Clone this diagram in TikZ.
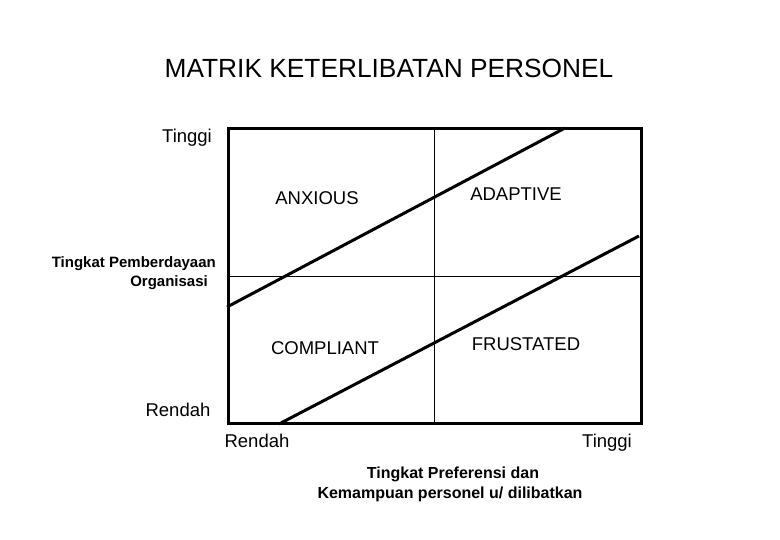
\documentclass[tikz,border=0pt]{standalone}
\usepackage{fontspec}
\setmainfont{Liberation Sans}
\begin{document}
\begin{tikzpicture}[x=1pt,y=-1pt,
  lbl/.style={inner sep=0pt,font=\fontsize{18.5}{22}\selectfont},
  axisy/.style={inner sep=0pt,font=\bfseries\fontsize{15}{18}\selectfont},
  axisx/.style={inner sep=0pt,font=\bfseries\fontsize{16}{19}\selectfont},
  frame/.style={line width=3pt},
  mid/.style={line width=0.9pt},
  diag/.style={line width=3pt,line cap=butt}]
\useasboundingbox (0,0) rectangle (780,540);
% frame and quadrant lines
\coordinate (tl) at (228,129);
\coordinate (br) at (641,423);
\draw[frame] (tl) rectangle (br);
\coordinate (vt) at (434,129);
\coordinate (vb) at (434,423);
\coordinate (hl) at (228,276);
\coordinate (hr) at (641,276);
\draw[mid] (vt) -- (vb);
\draw[mid] (hl) -- (hr);
% diagonal lines
\coordinate (d1a) at (227,307);
\coordinate (d1b) at (565,128);
\coordinate (d2a) at (279,424);
\coordinate (d2b) at (639,236);
\draw[diag] (d1a) -- (d1b);
\draw[diag] (d2a) -- (d2b);
% title
\node[inner sep=0pt,font=\fontsize{26.3}{30}\selectfont] (title) at (389,68) {MATRIK KETERLIBATAN PERSONEL};
% quadrant labels
\node[lbl] (anx) at (317,198) {ANXIOUS};
\node[lbl] (ada) at (516,194) {ADAPTIVE};
\node[lbl] (com) at (325,348) {COMPLIANT};
\node[lbl] (fru) at (526,344) {FRUSTATED};
% axis ends
\node[lbl] (ytop) at (187,138) {Tinggi};
\node[lbl] (ybot) at (178,410) {Rendah};
\node[lbl] (xl) at (257,441) {Rendah};
\node[lbl] (xr) at (607,443) {Tinggi};
% axis titles
\node[axisy,anchor=east] (ya1) at (216,264) {Tingkat Pemberdayaan};
\node[axisy,anchor=east] (ya2) at (208,283) {Organisasi};
\node[axisx] (xa1) at (453,474) {Tingkat Preferensi dan};
\node[axisx] (xa2) at (450,494) {Kemampuan personel u/ dilibatkan};
\end{tikzpicture}
\end{document}
